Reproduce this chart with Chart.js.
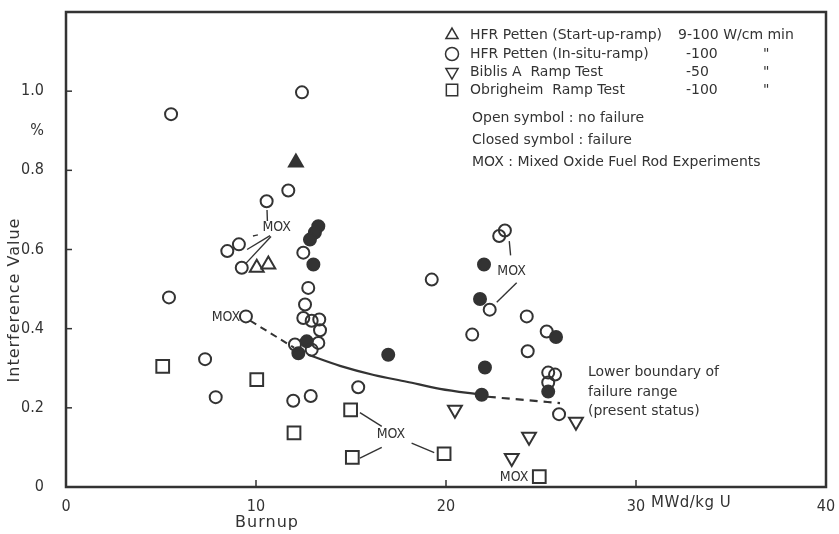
<!DOCTYPE html>
<html>
<head>
<meta charset="utf-8">
<script src="https://cdn.jsdelivr.net/npm/chart.js@4.4.1/dist/chart.umd.min.js"></script>
<style>
  html, body { margin: 0; padding: 0; background: #fff; }
  #wrap { width: 839px; height: 534px; }
</style>
</head>
<body>
<div id="wrap"><canvas id="chart" width="839" height="534"></canvas></div>
<script>
/* burnup (MWd/kg U) vs interference value (%) */

// HFR Petten start-up ramp (triangles)
const startupOpen = [[10.04, 0.554], [10.65, 0.562]];
const startupClosed = [[12.1, 0.82]];

// HFR Petten in-situ ramp (circles)
const insituOpen = [
  [5.53, 0.942], [12.42, 0.997], [5.42, 0.479], [10.56, 0.722], [11.7, 0.749],
  [9.1, 0.613], [8.49, 0.596], [9.25, 0.554], [9.47, 0.431], [7.32, 0.323],
  [7.88, 0.227], [11.96, 0.218], [12.88, 0.23], [12.49, 0.592], [12.75, 0.503],
  [12.58, 0.461], [12.49, 0.427], [12.93, 0.42], [13.33, 0.423], [13.37, 0.396],
  [13.28, 0.364], [12.93, 0.347], [12.05, 0.36], [15.38, 0.252], [19.25, 0.524],
  [21.38, 0.385], [22.8, 0.634], [23.1, 0.648], [22.3, 0.448], [24.25, 0.431],
  [25.3, 0.393], [24.3, 0.343], [25.38, 0.289], [25.74, 0.284], [25.38, 0.264],
  [25.95, 0.184]
];
const insituClosed = [
  [13.02, 0.562], [13.28, 0.659], [13.1, 0.643], [12.84, 0.625], [12.67, 0.368],
  [12.23, 0.338], [22.0, 0.562], [21.79, 0.475], [25.79, 0.379], [16.96, 0.334],
  [22.05, 0.302], [25.38, 0.241], [21.88, 0.233]
];

// Biblis A ramp test (down triangles)
const biblisOpen = [[20.47, 0.195], [24.37, 0.127], [26.84, 0.165], [23.46, 0.073]];

// Obrigheim ramp test (squares)
const obrigheimOpen = [
  [5.09, 0.305], [10.04, 0.271], [12.0, 0.137], [14.98, 0.195],
  [15.07, 0.075], [19.9, 0.084], [24.91, 0.026]
];

// lower boundary of failure range
const boundarySolid = [[12.74, 0.334], [14.42, 0.306], [16.2, 0.283], [17.93, 0.266], [19.68, 0.248], [21.88, 0.233]];
const boundaryDashLeft = [[9.7, 0.42], [12.0, 0.352]];
const boundaryDashRight = [[22.2, 0.228], [26.0, 0.212]];

// MOX leader lines and labels
const moxLeaders = [
  [[10.6, 0.672], [10.58, 0.70]],
  [[9.84, 0.634], [10.1, 0.637]],
  [[10.74, 0.635], [9.53, 0.60]],
  [[10.79, 0.633], [9.47, 0.565]],
  [[23.33, 0.621], [23.4, 0.585]],
  [[23.72, 0.516], [22.67, 0.467]],
  [[15.47, 0.188], [16.62, 0.153]],
  [[15.47, 0.073], [16.62, 0.10]],
  [[18.19, 0.111], [19.38, 0.087]]
];
const moxLabels = [[11.09, 0.656], [8.42, 0.429], [23.45, 0.545], [17.1, 0.132], [23.58, 0.025]];

const xTicks = [0, 10, 20, 30, 40];
const yTicks = [0, 0.2, 0.4, 0.6, 0.8, 1.0];

const legendNames = ["HFR Petten (Start-up-ramp)", "HFR Petten (In-situ-ramp)", "Biblis A  Ramp Test", "Obrigheim  Ramp Test"];
const legendRates = ["9-100 W/cm min", "-100", "-50", "-100"];
const legendNotes = ["Open symbol : no failure", "Closed symbol : failure", "MOX : Mixed Oxide Fuel Rod Experiments"];
const boundaryNote = ["Lower boundary of", "failure range", "(present status)"];

const INK = "#333333";
const FONT = "'DejaVu Sans', 'Liberation Sans', sans-serif";
const NARROW = "'DejaVu Sans Condensed', 'Liberation Sans', sans-serif";

const pts = arr => arr.map(p => ({x: p[0], y: p[1]}));

function markerSet(label, data, style, filled, radius, rotation) {
  return {
    label, data: pts(data),
    pointStyle: style, pointRadius: radius, pointHoverRadius: radius,
    pointRotation: rotation || 0,
    borderColor: INK, borderWidth: 2,
    backgroundColor: filled ? INK : "rgba(0,0,0,0)",
    showLine: false, order: 1
  };
}

function lineSet(data, dash, width) {
  return {
    data: pts(data), showLine: true, pointRadius: 0, pointHoverRadius: 0,
    borderColor: INK, borderWidth: width, borderDash: dash,
    cubicInterpolationMode: "monotone", fill: false, order: 2
  };
}

const datasets = [
  markerSet("startupOpen", startupOpen, "triangle", false, 8),
  markerSet("startupClosed", startupClosed, "triangle", true, 8),
  markerSet("insituOpen", insituOpen, "circle", false, 6),
  markerSet("insituClosed", insituClosed, "circle", true, 6),
  markerSet("biblis", biblisOpen, "triangle", false, 8, 180),
  markerSet("obrigheim", obrigheimOpen, "rect", false, 9),
  lineSet(boundarySolid, [], 2.2),
  lineSet(boundaryDashLeft, [7, 5], 2),
  lineSet(boundaryDashRight, [8, 6], 2.2)
];
moxLeaders.forEach(seg => datasets.push(lineSet(seg, [], 1.4)));

function spaced(ctx, px) {
  if ("letterSpacing" in ctx) ctx.letterSpacing = px;
}

/* frame, inner ticks and all the hand lettering */
const decorPlugin = {
  id: "decor",
  afterDraw(chart) {
    const {ctx, chartArea: a, scales} = chart;
    const xs = scales.x, ys = scales.y;
    ctx.save();
    ctx.strokeStyle = INK;
    ctx.lineWidth = 2.5;
    ctx.strokeRect(a.left, a.top, a.right - a.left, a.bottom - a.top);

    // inner tick marks
    ctx.lineWidth = 1.5;
    yTicks.slice(1).forEach(v => {
      const y = ys.getPixelForValue(v);
      ctx.beginPath(); ctx.moveTo(a.left, y); ctx.lineTo(a.left + 6, y); ctx.stroke();
    });
    xTicks.slice(1, -1).forEach(v => {
      const x = xs.getPixelForValue(v);
      ctx.beginPath(); ctx.moveTo(x, a.bottom); ctx.lineTo(x, a.bottom - 7); ctx.stroke();
    });

    ctx.fillStyle = INK;
    ctx.textBaseline = "middle";

    // unit labels and axis titles
    ctx.font = "16px " + NARROW;
    ctx.textAlign = "right";
    ctx.fillText("%", 44, ys.getPixelForValue(0.9));
    ctx.font = "15px " + FONT;
    spaced(ctx, "0.5px");
    ctx.textAlign = "left";
    ctx.fillText("MWd/kg U", xs.getPixelForValue(30) + 15, 503);
    ctx.font = "16px " + FONT;
    spaced(ctx, "1px");
    ctx.textAlign = "center";
    ctx.fillText("Burnup", 267, 523);
    ctx.save();
    ctx.translate(15, 300);
    ctx.rotate(-Math.PI / 2);
    ctx.fillText("Interference Value", 0, 0);
    ctx.restore();
    spaced(ctx, "0px");

    // MOX labels
    ctx.font = "14px " + NARROW;
    ctx.textAlign = "center";
    moxLabels.forEach(p => ctx.fillText("MOX", xs.getPixelForValue(p[0]), ys.getPixelForValue(p[1])));

    // legend block
    ctx.font = "14px " + FONT;
    const lx = 452, tx = 470, rx = 686, dx = 763;
    const rows = [35, 54, 72, 90];
    const styles = [["triangle", 0], ["circle", 0], ["triangle", 180], ["rect", 0]];
    const radii = [7, 6.5, 7, 8];
    ctx.textAlign = "left";
    rows.forEach((y, i) => {
      ctx.save();
      ctx.fillStyle = "rgba(0,0,0,0)";
      ctx.lineWidth = 1.5;
      Chart.helpers.drawPoint(ctx, {pointStyle: styles[i][0], rotation: styles[i][1], radius: radii[i], borderWidth: 1.5}, lx, y);
      ctx.restore();
      ctx.fillText(legendNames[i], tx, y);
      ctx.fillText(legendRates[i], i === 0 ? 678 : rx, y);
      if (i > 0) ctx.fillText("\"", dx, y);
    });
    [118, 140, 162].forEach((y, i) => ctx.fillText(legendNotes[i], 472, y));

    // boundary note
    [372, 392, 411].forEach((y, i) => ctx.fillText(boundaryNote[i], 588, y));
    ctx.restore();
  }
};

new Chart(document.getElementById("chart"), {
  type: "scatter",
  data: {datasets},
  options: {
    responsive: false,
    animation: false,
    events: [],
    layout: {autoPadding: false, padding: {top: 12, right: 13, left: 0, bottom: 0}},
    plugins: {legend: {display: false}, tooltip: {enabled: false}},
    scales: {
      x: {
        type: "linear", min: 0, max: 40,
        afterFit: s => { s.height = 47; s.paddingLeft = 0; s.paddingRight = 0; },
        afterBuildTicks: s => { s.ticks = xTicks.map(v => ({value: v})); },
        grid: {drawOnChartArea: false, drawTicks: false},
        border: {display: false},
        ticks: {color: INK, padding: 10, maxRotation: 0, font: {family: NARROW, size: 16}, callback: v => String(v)}
      },
      y: {
        type: "linear", min: 0, max: 1.2,
        afterFit: s => { s.width = 66; s.paddingTop = 0; s.paddingBottom = 0; },
        afterBuildTicks: s => { s.ticks = yTicks.map(v => ({value: v})); },
        grid: {drawOnChartArea: false, drawTicks: false},
        border: {display: false},
        ticks: {color: INK, padding: 22, font: {family: NARROW, size: 16}, callback: v => v === 0 ? "0" : v.toFixed(1)}
      }
    }
  },
  plugins: [decorPlugin]
});
</script>
</body>
</html>
